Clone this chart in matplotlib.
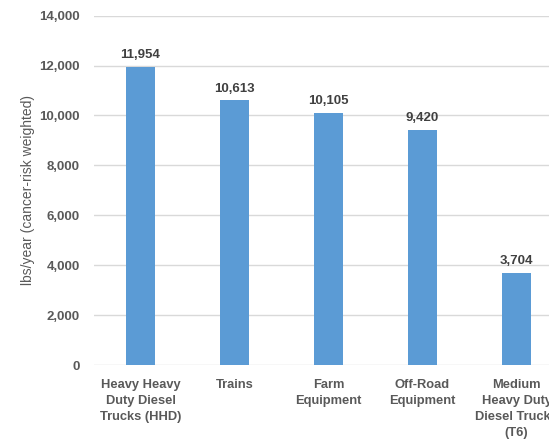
import matplotlib
matplotlib.use("Agg")
import matplotlib.pyplot as plt
from matplotlib.ticker import FuncFormatter

categories = ["Heavy Heavy\nDuty Diesel\nTrucks (HHD)", "Trains", "Farm\nEquipment",
              "Off-Road\nEquipment", "Medium\nHeavy Duty\nDiesel Trucks\n(T6)"]
values = [11954, 10613, 10105, 9420, 3704]
y_ticks = [0, 2000, 4000, 6000, 8000, 10000, 12000, 14000]

W, H = 549, 444
fig = plt.figure(figsize=(W / 100, H / 100), dpi=100)
left_px, right_px = 93.5, 563.5
bottom_px, top_px = 365, 15.7
ax = fig.add_axes([left_px / W, (H - bottom_px) / H,
                   (right_px - left_px) / W, (bottom_px - top_px) / H])

text_color = "#595959"
font = "Liberation Sans"
x = list(range(len(categories)))
bars = ax.bar(x, values, width=0.31, color="#5B9BD5", zorder=3)
for xi, v in zip(x, values):
    ax.annotate(f"{v:,}", (xi, v), xytext=(0, 4), textcoords="offset points",
                ha="center", va="bottom", fontsize=9.5, fontweight="bold",
                color="#404040", family=font)

ax.set_xlim(-0.5, len(categories) - 0.5)
ax.set_ylim(0, 14000)
ax.set_yticks(y_ticks)
ax.yaxis.set_major_formatter(FuncFormatter(lambda v, p: f"{int(v):,}"))
ax.set_xticks(x)
ax.set_xticklabels(categories, fontsize=9.3, fontweight="bold", color=text_color,
                   family=font, linespacing=1.45)
for lab in ax.get_yticklabels():
    lab.set_fontsize(9.5)
    lab.set_fontweight("bold")
    lab.set_color(text_color)
    lab.set_family(font)
ax.tick_params(axis="both", length=0)
ax.tick_params(axis="y", pad=10)
ax.tick_params(axis="x", pad=10)
ax.grid(axis="y", color="#D9D9D9", linewidth=1, zorder=0)
for s in ax.spines.values():
    s.set_visible(False)
ax.set_ylabel("lbs/year (cancer-risk weighted)", fontsize=10, color=text_color,
              family=font)
ax.yaxis.set_label_coords((35 - left_px) / (right_px - left_px), 0.5)

fig.savefig("out.png", dpi=100)
